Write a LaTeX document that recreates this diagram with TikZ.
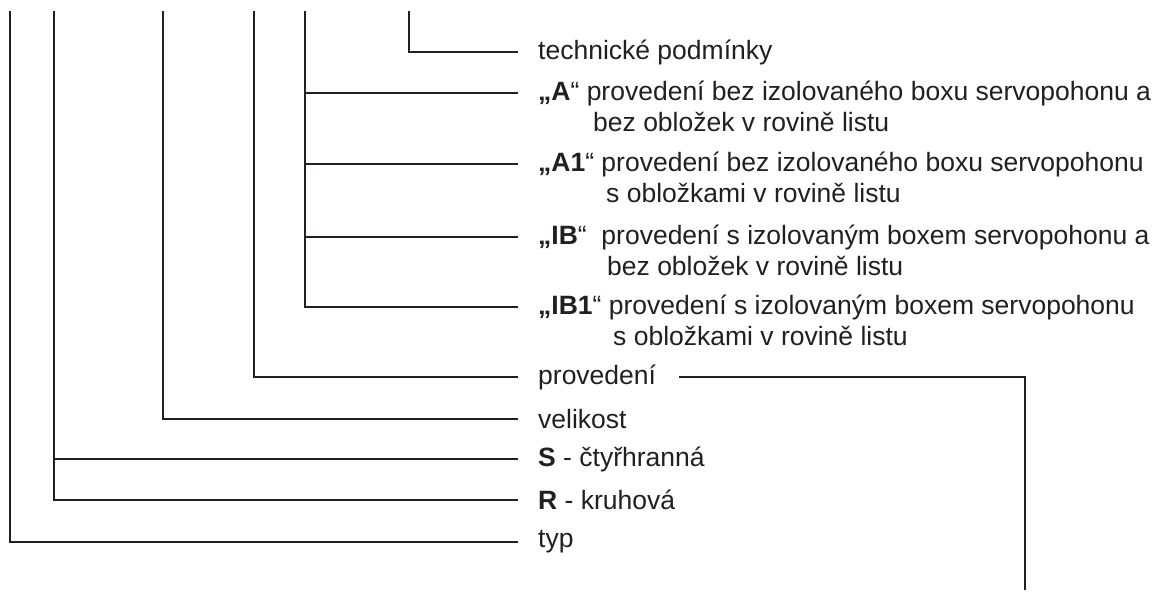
\documentclass[tikz,border=0pt]{standalone}
\usepackage{fontspec}
\setmainfont{Liberation Sans}
\usetikzlibrary{positioning}
\definecolor{ink}{HTML}{231F20}

\begin{document}
\begin{tikzpicture}[x=1pt,y=-1pt,
  keytext/.style={anchor=west,inner xsep=20pt,inner ysep=0pt,text=ink,
    font=\fontsize{26.5}{29}\selectfont},
  subtext/.style={anchor=west,inner sep=0pt,text=ink,
    font=\fontsize{26.5}{29}\selectfont},
  branch/.style={line width=2.4pt,ink}
]
  \useasboundingbox (0,0) rectangle (1162,600);

  % stems of the code
  \coordinate (c1) at (10,11);
  \coordinate (c2) at (54,11);
  \coordinate (c3) at (163,11);
  \coordinate (c4) at (254,11);
  \coordinate (c5) at (305,11);
  \coordinate (c6) at (409,11);

  \node[keytext] (tp) at (518,52) {technické podmínky};
  \node[keytext] (a) at (518,93)
    {\textbf{„A}“ provedení bez izolovaného boxu servopohonu a};
  \node[subtext] (a2) at (593,122) {bez obložek v rovině listu};
  \node[keytext] (a1) at (518,164)
    {\textbf{„A1}“ provedení bez izolovaného boxu servopohonu};
  \node[subtext] (a12) at (606,193) {s obložkami v rovině listu};
  \node[keytext] (ib) at (518,237)
    {\textbf{„IB}“\ \ provedení s izolovaným boxem servopohonu a};
  \node[subtext] (ib2) at (607,266) {bez obložek v rovině listu};
  \node[keytext] (ib1) at (518,307)
    {\textbf{„IB1}“ provedení s izolovaným boxem servopohonu};
  \node[subtext] (ib12) at (613,336) {s obložkami v rovině listu};
  \node[keytext] (prov) at (518,377) {provedení};
  \node[keytext] (vel) at (518,419) {velikost};
  \node[keytext] (s) at (518,459) {\textbf{S} - čtyřhranná};
  \node[keytext] (r) at (518,500) {\textbf{R} - kruhová};
  \node[keytext] (typ) at (518,542) {typ};
  \coordinate (out) at (1025,590);

  \draw[branch] (c1) |- (typ.west);
  \draw[branch] (c2) |- (r.west);
  \draw[branch] (c2 |- s.west) -- (s.west);
  \draw[branch] (c3) |- (vel.west);
  \draw[branch] (c4) |- (prov.west);
  \draw[branch] (c5) |- (ib1.west);
  \draw[branch] (c5 |- a.west) -- (a.west);
  \draw[branch] (c5 |- a1.west) -- (a1.west);
  \draw[branch] (c5 |- ib.west) -- (ib.west);
  \draw[branch] (c6) |- (tp.west);
  \draw[branch] ([xshift=3pt]prov.east) -| (out);
\end{tikzpicture}
\end{document}
